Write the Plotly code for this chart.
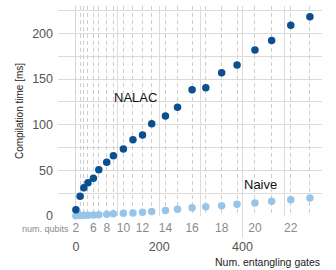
import plotly.graph_objects as go

qubits = list(range(2, 24))
gates = [0, 10, 19, 29, 42, 55, 74, 90, 114, 137, 160, 182, 215, 244, 279, 312, 350, 387, 430, 470, 516, 562]
nalac_ms = [6.9, 21.6, 31.0, 36.5, 41.3, 50.7, 58.8, 66.0, 73.3, 83.5, 88.7, 101.0, 109.5, 119.0,
            138.3, 140.4, 156.9, 165.3, 181.7, 192.3, 208.8, 218.2]
naive_ms = [0.3, 0.5, 0.7, 0.9, 1.2, 1.5, 2.0, 2.4, 2.9, 3.4, 4.2, 4.8, 5.9, 7.3,
            9.0, 10.2, 11.3, 12.8, 14.3, 16.2, 17.9, 19.8]
qubit_labels = ["2" if q == 2 else (str(q) if q % 2 == 0 and q != 4 else "") for q in qubits]

NALAC_C = "#0b4f8f"
NAIVE_C = "#97c5ea"
GRID = "#dcdcdc"
FONT = "Liberation Sans"

fig = go.Figure()
fig.add_trace(go.Scatter(x=gates, y=naive_ms, mode="markers", name="Naive",
                         marker=dict(color=NAIVE_C, size=7.5), cliponaxis=False))
fig.add_trace(go.Scatter(x=gates, y=nalac_ms, mode="markers", name="NALAC",
                         marker=dict(color=NALAC_C, size=7.5), cliponaxis=False))
fig.add_trace(go.Scatter(x=gates, y=[None]*len(gates), xaxis="x2", mode="markers",
                         showlegend=False, hoverinfo="skip"))

xr = [-43, 591]
fig.update_layout(
    width=336, height=270,
    margin=dict(l=58, r=14, t=6, b=54, autoexpand=False),
    paper_bgcolor="white", plot_bgcolor="white",
    showlegend=False,
    font=dict(family=FONT, color="#555555"),
    xaxis=dict(range=xr, tickvals=[0, 200, 400], ticks="", showline=False, zeroline=False,
               automargin=False,
               showgrid=True, gridcolor=GRID, gridwidth=1,
               minor=dict(dtick=100, tick0=0, showgrid=True, gridcolor=GRID, gridwidth=1),
               tickfont=dict(size=12.5, color="#555555"), ticklabelstandoff=21,
               title=None),
    xaxis2=dict(range=xr, overlaying="x", side="bottom", tickvals=gates, ticktext=qubit_labels,
                automargin=False,
                ticks="", showline=False, zeroline=False, showgrid=True, gridcolor="#cfcfcf",
                griddash="4px,3px", gridwidth=1,
                tickfont=dict(size=12, color="#8a8a8a"), ticklabelstandoff=3),
    yaxis=dict(range=[0, 230], tickvals=[0, 50, 100, 150, 200], ticks="", showline=False,
               automargin=False,
               zeroline=False, showgrid=True, gridcolor=GRID, gridwidth=1,
               minor=dict(dtick=25, tick0=0, showgrid=True, gridcolor=GRID, gridwidth=1),
               tickfont=dict(size=12.5, color="#555555"), ticklabelstandoff=4,
               title=dict(text="Compilation time [ms]", font=dict(size=10, color="#222222"),
                          standoff=6)),
)

fig.add_annotation(x=142, y=130, text="NALAC", showarrow=False,
                   font=dict(size=13, color="#111111", family=FONT))
fig.add_annotation(x=443, y=34, text="Naive", showarrow=False,
                   font=dict(size=13, color="#111111", family=FONT))
fig.add_annotation(xref="paper", yref="paper", x=0.05, y=-0.062, xanchor="right", yanchor="middle",
                   text="num. qubits", showarrow=False,
                   font=dict(size=9, color="#8a8a8a", family=FONT))
fig.add_annotation(xref="paper", yref="paper", x=1.0, y=-0.219, xanchor="right", yanchor="middle",
                   text="Num. entangling gates", showarrow=False,
                   font=dict(size=10.5, color="#222222", family=FONT))
fig.add_shape(type="line", xref="x", yref="paper", x0=400, x1=400, y0=0, y1=-0.105,
              line=dict(color=GRID, width=1))

fig.write_html("out.html", config={"displayModeBar": False},
               post_script="document.body.style.margin='0px';document.body.style.padding='0px';")
